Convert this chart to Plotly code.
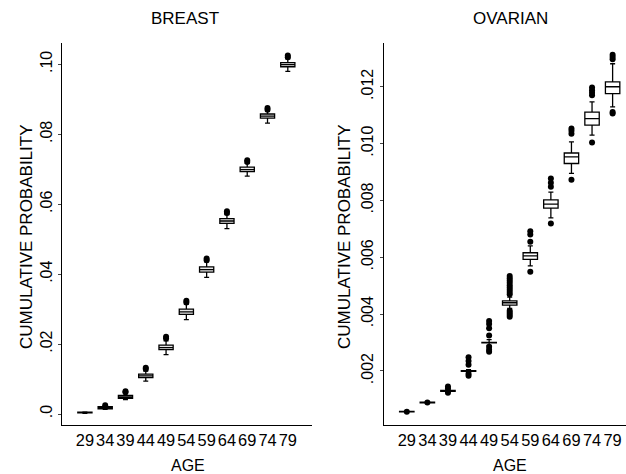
import plotly.graph_objects as go

# Age groups (x categories)
ages = ["29", "34", "39", "44", "49", "54", "59", "64", "69", "74", "79"]

# Breast cancer: box-plot summaries of cumulative probability per age
breast_median = [0.0004, 0.0018, 0.0049, 0.0109, 0.0190, 0.0292, 0.0413, 0.0552, 0.0699, 0.0852, 0.0999]
breast_q1 = [0.0003, 0.0015, 0.0045, 0.0104, 0.0184, 0.0285, 0.0406, 0.0545, 0.0693, 0.0846, 0.0993]
breast_q3 = [0.0005, 0.0021, 0.0053, 0.0114, 0.0197, 0.0300, 0.0421, 0.0559, 0.0706, 0.0858, 0.1005]
breast_lo = [0.0002, 0.0013, 0.0041, 0.0094, 0.0170, 0.0270, 0.0391, 0.0530, 0.0680, 0.0832, 0.0980]
breast_hi = [0.0006, 0.0023, 0.0058, 0.0123, 0.0209, 0.0314, 0.0435, 0.0570, 0.0717, 0.0866, 0.1016]
breast_out_age = ["34", "39", "39", "44", "44", "49", "49", "54", "54", "59", "59",
                  "64", "64", "69", "69", "74", "74", "79", "79"]
breast_out_val = [0.0025, 0.0062, 0.0065, 0.0129, 0.0132, 0.0216, 0.0221, 0.0319, 0.0324, 0.0440, 0.0445,
                  0.0575, 0.0580, 0.0721, 0.0726, 0.0870, 0.0875, 0.1020, 0.1025]

# Ovarian cancer: box-plot summaries
ov_median = [0.00057, 0.00089, 0.00130, 0.00200, 0.00300, 0.00440, 0.00605, 0.00787, 0.00953, 0.01088, 0.01200]
ov_q1 = [0.00056, 0.00088, 0.00128, 0.00199, 0.00299, 0.00432, 0.00593, 0.00773, 0.00930, 0.01065, 0.01176]
ov_q3 = [0.00058, 0.00090, 0.00132, 0.00201, 0.00301, 0.00447, 0.00616, 0.00802, 0.00967, 0.01111, 0.01217]
ov_lo = [0.00056, 0.00087, 0.00125, 0.00195, 0.00290, 0.00420, 0.00570, 0.00739, 0.00895, 0.01030, 0.01129]
ov_hi = [0.00058, 0.00091, 0.00135, 0.00205, 0.00310, 0.00460, 0.00640, 0.00829, 0.01006, 0.01147, 0.01281]
ov_out_age = (["29"] + ["34"] + ["39"] * 3 + ["44"] * 5 + ["49"] * 7 + ["54"] * 13
              + ["59"] * 4 + ["64"] * 4 + ["69"] * 4 + ["74"] * 5 + ["79"] * 5)
ov_out_val = ([0.00057] + [0.00089]
              + [0.00123, 0.00138, 0.00145]
              + [0.00183, 0.00190, 0.00222, 0.00235, 0.00248]
              + [0.00268, 0.00275, 0.00285, 0.00325, 0.00350, 0.00365, 0.00376]
              + [0.00391, 0.00398, 0.00405, 0.00412, 0.00470, 0.00478, 0.00486, 0.00494,
                 0.00502, 0.00510, 0.00518, 0.00526, 0.00534]
              + [0.00549, 0.00655, 0.00680, 0.00692]
              + [0.00719, 0.00848, 0.00862, 0.00877]
              + [0.00873, 0.01035, 0.01045, 0.01053]
              + [0.01004, 0.01170, 0.01179, 0.01188, 0.01197]
              + [0.01106, 0.01111, 0.01297, 0.01305, 0.01313])

breast_ticks = [0.0, 0.02, 0.04, 0.06, 0.08, 0.10]
breast_ticktext = [".0", ".02", ".04", ".06", ".08", ".10"]
ov_ticks = [0.002, 0.004, 0.006, 0.008, 0.010, 0.012]
ov_ticktext = [".002", ".004", ".006", ".008", ".010", ".012"]

FONT = "Liberation Sans, Arial, Helvetica, sans-serif"

fig = go.Figure()


def add_panel(xa, ya, q1, med, q3, lo, hi, out_x, out_y, fill):
    fig.add_trace(go.Box(
        x=ages, q1=q1, median=med, q3=q3, lowerfence=lo, upperfence=hi,
        xaxis=xa, yaxis=ya, width=0.7, whiskerwidth=0.35,
        fillcolor=fill, line=dict(color="black", width=1.3),
        boxpoints=False, showlegend=False, hoverinfo="skip",
    ))
    fig.add_trace(go.Scatter(
        x=out_x, y=out_y, xaxis=xa, yaxis=ya, mode="markers",
        marker=dict(color="black", size=6), showlegend=False, hoverinfo="skip",
    ))


add_panel("x", "y", breast_q1, breast_median, breast_q3, breast_lo, breast_hi,
          breast_out_age, breast_out_val, "#e6e6e6")
add_panel("x2", "y2", ov_q1, ov_median, ov_q3, ov_lo, ov_hi,
          ov_out_age, ov_out_val, "white")

axis_common = dict(showline=True, linecolor="black", linewidth=1, showgrid=False,
                   zeroline=False)
xtick_font = dict(family=FONT, size=16.4, color="black")
ytick_font = dict(family=FONT, size=16, color="black")

fig.update_layout(
    width=626, height=474,
    margin=dict(l=0, r=0, t=0, b=0),
    paper_bgcolor="white", plot_bgcolor="white",
    font=dict(family=FONT, color="black"),
    xaxis=dict(domain=[0.099, 0.498], type="category", categoryorder="array",
               categoryarray=ages, range=[-1.13, 11.18], ticks="", tickangle=0,
               tickfont=xtick_font, anchor="y", **axis_common),
    yaxis=dict(domain=[0.1034, 0.9093], range=[-0.00314, 0.1061], tickvals=breast_ticks,
               ticktext=breast_ticktext, ticks="outside", ticklen=3, tickangle=-90,
               tickfont=ytick_font, anchor="x", **axis_common),
    xaxis2=dict(domain=[0.613, 1.0], type="category", categoryorder="array",
                categoryarray=ages, range=[-1.12, 10.65], ticks="", tickangle=0,
                tickfont=xtick_font, anchor="y2", **axis_common),
    yaxis2=dict(domain=[0.1034, 0.9093], range=[0.0001, 0.01354], tickvals=ov_ticks,
                ticktext=ov_ticktext, ticks="outside", ticklen=3, tickangle=-90,
                tickfont=ytick_font, anchor="x2", **axis_common),
)

title_font = dict(family=FONT, size=17, color="black")
annotations = [
    dict(text="BREAST", x=185 / 626, y=(474 - 19) / 474, font=title_font),
    dict(text="OVARIAN", x=510 / 626, y=(474 - 19) / 474, font=title_font),
    dict(text="AGE", x=188 / 626, y=(474 - 465) / 474, font=dict(family=FONT, size=16, color="black")),
    dict(text="AGE", x=510 / 626, y=(474 - 465) / 474, font=dict(family=FONT, size=16, color="black")),
    dict(text="CUMULATIVE PROBABILITY", x=26 / 626, y=(474 - 237) / 474, textangle=-90,
         font=dict(family=FONT, size=17, color="black")),
    dict(text="CUMULATIVE PROBABILITY", x=344 / 626, y=(474 - 237) / 474, textangle=-90,
         font=dict(family=FONT, size=17, color="black")),
]
for a in annotations:
    fig.add_annotation(xref="paper", yref="paper", showarrow=False,
                       xanchor="center", yanchor="middle", **a)

fig.write_html("out.html")
